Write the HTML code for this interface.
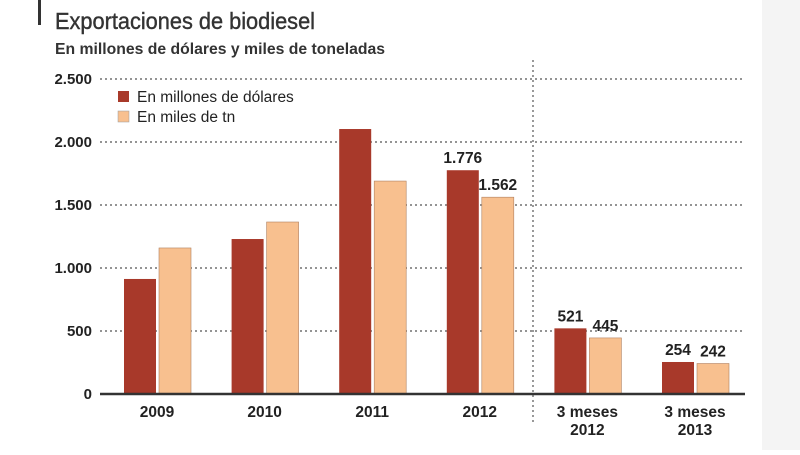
<!DOCTYPE html>
<html><head><meta charset="utf-8"><style>
body{margin:0;width:800px;height:450px;background:#fff;overflow:hidden;font-family:"Liberation Sans Narrow","Liberation Sans",sans-serif;}
svg text{font-family:"Liberation Sans Narrow","Liberation Sans",sans-serif;}
</style></head><body>
<svg id="c" width="800" height="450">
<rect x="762" y="0" width="38" height="450" fill="#f4f4f4"/>
<rect x="38" y="0" width="3" height="25" fill="#333"/>
<text x="55" y="29" font-size="23" fill="#333" stroke="#333" stroke-width="0.4" textLength="260" lengthAdjust="spacingAndGlyphs">Exportaciones de biodiesel</text>
<text x="55" y="54" font-size="15.5" font-weight="bold" fill="#333" textLength="330" lengthAdjust="spacingAndGlyphs">En millones de dólares y miles de toneladas</text>
<g id="grid"></g><g id="bars"></g>
<rect x="118" y="91" width="11" height="11" fill="#a8392a"/>
<text x="137" y="102" font-size="15.5" fill="#222">En millones de dólares</text>
<rect x="118" y="111" width="11" height="11" fill="#f8c08f" stroke="#999" stroke-width="0.5"/>
<text x="137" y="122" font-size="15.5" fill="#222">En miles de tn</text>
</svg>
<script>
const categories=["2009","2010","2011","2012","3 meses|2012","3 meses|2013"];
const dolares=[913,1230,2103,1776,521,254];
const toneladas=[1159,1365,1690,1562,445,242];
const labeled=[false,false,false,true,true,true];
const ticks=[0,500,1000,1500,2000,2500];
const tickLabels=["0","500","1.000","1.500","2.000","2.500"];
const NS="http://www.w3.org/2000/svg";
const y=v=>394-v*63/500;
const cx=i=>157+i*107.6;
function mk(t,a,p){const e=document.createElementNS(NS,t);for(const k in a)e.setAttribute(k,a[k]);p.appendChild(e);return e;}
const g=document.getElementById('grid'),b=document.getElementById('bars');
const fmt=v=>v>=1000?Math.floor(v/1000)+"."+String(v%1000).padStart(3,"0"):String(v);
ticks.forEach((t,i)=>{
 if(t>0){const l=mk('line',{x1:100,x2:745,y1:y(t),y2:y(t),stroke:'#555','stroke-width':1.2,'stroke-dasharray':'2,3'},g);
 
 }
 const tx=mk('text',{x:92,y:y(t)+5,'font-size':15,'font-weight':'bold','text-anchor':'end',fill:'#222'},g);
 tx.textContent=tickLabels[i];
 
 
});
const vl=mk('line',{x1:533,x2:533,y1:60,y2:422,stroke:'#555','stroke-width':1.2,'stroke-dasharray':'2,3'},g);


categories.forEach((c,i)=>{
 const x=cx(i);
 const r1=mk('rect',{x:x-33,y:y(dolares[i]),width:32,height:394-y(dolares[i]),fill:'#a8392a'},b);
 
 
 const r2=mk('rect',{x:x+2,y:y(toneladas[i]),width:32,height:394-y(toneladas[i]),fill:'#f8c08f',stroke:'#b08060','stroke-width':0.6},b);
 
 
 if(labeled[i]){
  const a=mk('text',{x:x-17,y:y(dolares[i])-7,'font-size':15.5,'font-weight':'bold','text-anchor':'middle',fill:'#222'},b);
  a.textContent=fmt(dolares[i]);
  
  
  const d=mk('text',{x:x+18,y:y(toneladas[i])-7,'font-size':15.5,'font-weight':'bold','text-anchor':'middle',fill:'#222'},b);
  d.textContent=fmt(toneladas[i]);
  
  
 }
 c.split('|').forEach((s,j)=>{
  const t=mk('text',{x:x,y:417+j*18,'font-size':15.5,'font-weight':'bold','text-anchor':'middle',fill:'#222'},b);
  t.textContent=s;
  
  
 });
});
const ax=mk('line',{x1:100,x2:745,y1:394,y2:394,stroke:'#333','stroke-width':2.5},b);


</script>
</body></html>
